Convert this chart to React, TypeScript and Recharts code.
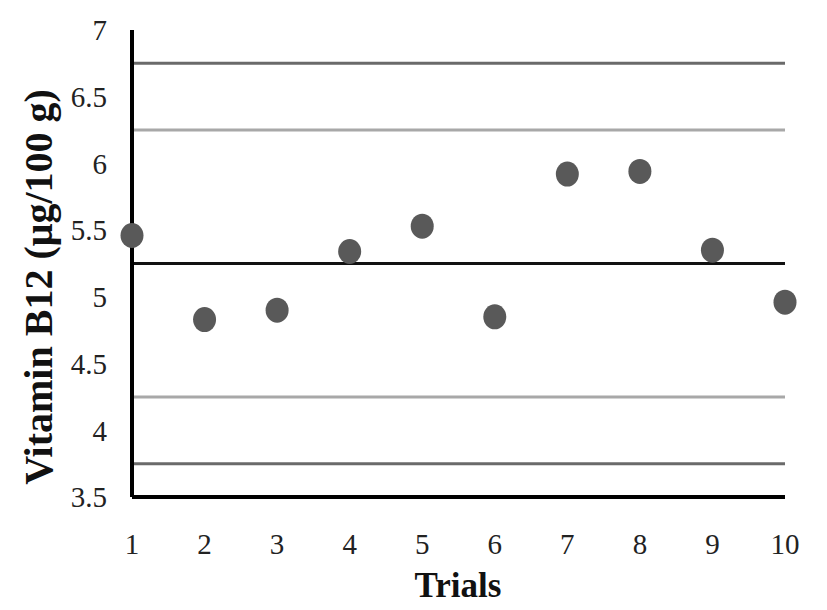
import { ScatterChart, Scatter, XAxis, YAxis, ReferenceLine, Label } from 'recharts'

const trials = [1, 2, 3, 4, 5, 6, 7, 8, 9, 10]
const vitaminB12 = [5.46, 4.83, 4.9, 5.34, 5.53, 4.85, 5.92, 5.94, 5.35, 4.96]
const yTicks = [3.5, 4, 4.5, 5, 5.5, 6, 6.5, 7]
const limitValues = [6.75, 6.25, 5.25, 4.25, 3.75]
const limitColors = ['#6a6a6a', '#a8a8a8', '#111111', '#a8a8a8', '#6a6a6a']

const data = trials.map((t, i) => ({ trial: t, value: vitaminB12[i] }))

const font = '"Liberation Serif", "Times New Roman", serif'

const Dot = (props: any) => {
  const { cx, cy } = props
  return <ellipse cx={cx} cy={cy} rx={11.5} ry={12.5} fill="#595959" />
}

export default function App() {
  return (
    <div style={{ position: 'absolute', left: 0, top: 0, background: '#fff' }}>
      <ScatterChart width={827} height={610} margin={{ top: 30, right: 42, bottom: 0, left: 0 }}>
        {limitValues.map((v, i) => (
          <ReferenceLine key={v} y={v} stroke={limitColors[i]} strokeWidth={3} />
        ))}
        <XAxis
          type="number"
          dataKey="trial"
          domain={[1, 10]}
          ticks={trials}
          height={113}
          tickLine={false}
          tickMargin={30}
          axisLine={{ stroke: '#000', strokeWidth: 4 }}
          tick={{ fill: '#222', fontSize: 29, fontFamily: font }}
        >
          <Label
            content={() => (
              <text x={458} y={597} textAnchor="middle" fontFamily={font} fontWeight="bold" fontSize={35} fill="#111">
                Trials
              </text>
            )}
          />
        </XAxis>
        <YAxis
          type="number"
          dataKey="value"
          domain={[3.5, 7]}
          ticks={yTicks}
          width={132}
          tickLine={false}
          tickMargin={19}
          axisLine={{ stroke: '#000', strokeWidth: 4 }}
          tick={{ fill: '#222', fontSize: 29, fontFamily: font }}
        >
          <Label
            content={() => (
              <text
                x={38}
                y={287}
                transform="rotate(-90, 38, 287)"
                textAnchor="middle"
                dominantBaseline="central"
                fontFamily={font}
                fontWeight="bold"
                fontSize={40}
                fill="#111"
              >
                Vitamin B12 (μg/100 g)
              </text>
            )}
          />
        </YAxis>
        <Scatter data={data} shape={<Dot />} isAnimationActive={false} />
      </ScatterChart>
    </div>
  )
}
